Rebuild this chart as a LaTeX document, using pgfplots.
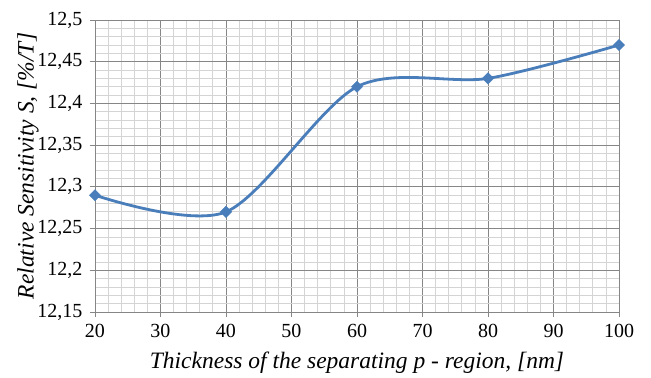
\documentclass[border=0pt]{standalone}
\usepackage{pgfplots}
\pgfplotsset{compat=1.18}
\usepackage{fontspec}
\setmainfont{Liberation Serif}
\definecolor{exblue}{HTML}{4A7EBB}
\definecolor{majgrid}{HTML}{868686}
\definecolor{mingrid}{HTML}{D4D4D4}
\begin{document}
\begin{tikzpicture}
\begin{axis}[
  scale only axis,
  width=524pt, height=292pt,
  xmin=20, xmax=100, ymin=12.15, ymax=12.5,
  xtick={20,30,40,50,60,70,80,90,100},
  xticklabels={20,30,40,50,60,70,80,90,100},
  ytick={12.15,12.2,12.25,12.3,12.35,12.4,12.45,12.5},
  yticklabels={{12,15},{12,2},{12,25},{12,3},{12,35},{12,4},{12,45},{12,5}},
  minor x tick num=4, minor y tick num=4,
  grid=both,
  major grid style={majgrid, line width=0.8pt},
  minor grid style={mingrid, line width=0.8pt},
  axis line style={majgrid, line width=0.8pt},
  tick style={majgrid, line width=0.8pt},
  major tick length=5pt,
  minor tick length=0pt,
  tick align=outside,
  xtick pos=bottom, ytick pos=left,
  tick label style={font=\fontsize{20}{21}\selectfont, text=black},
  yticklabel style={xshift=-4pt},
  xticklabel style={yshift=-4pt},
  xlabel={\fontsize{23.5}{24}\selectfont\itshape Thickness of the separating p - region, [nm]},
  ylabel={\fontsize{23.5}{24}\selectfont\itshape Relative Sensitivity S, [\%/T]},
  xlabel style={at={(axis description cs:0.5,-0.195)}, anchor=base},
  ylabel style={at={(axis description cs:-0.128,0.5)}, anchor=center},
]
\addplot[exblue, line width=2.8pt, smooth, tension=0.5,
  mark=square*, mark size=4pt, mark options={fill=exblue, draw=exblue, line width=0.4pt, rotate=45}]
  coordinates {(20,12.29) (40,12.27) (60,12.42) (80,12.43) (100,12.47)};
\end{axis}
\path (current axis.south west) ++(-95pt,-62pt) coordinate (bl);
\path (current axis.north east) ++(32pt,20pt) coordinate (tr);
\path (bl) rectangle (tr);
\end{tikzpicture}
\end{document}
